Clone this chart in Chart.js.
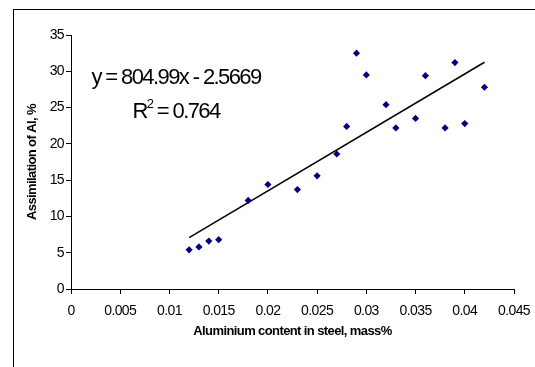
<!DOCTYPE html>
<html>
<head>
<meta charset="utf-8">
<script src="https://cdn.jsdelivr.net/npm/chart.js@4/dist/chart.umd.min.js"></script>
<style>
  body { margin: 0; background: #fff; }
  #frame { position: absolute; left: 13px; top: 9px; width: 600px; height: 400px;
           border-left: 1px solid #000; border-top: 1px solid #000; }
  #myChart { position: absolute; left: 0; top: 0; }
</style>
</head>
<body>
<div id="frame"></div>
<canvas id="myChart" width="535" height="367"></canvas>
<script>
// data
const alContent = [0.012, 0.013, 0.014, 0.015, 0.018, 0.020, 0.023, 0.025, 0.027, 0.028,
                   0.029, 0.030, 0.032, 0.033, 0.035, 0.036, 0.038, 0.039, 0.040, 0.042];
const assimilation = [5.4, 5.8, 6.6, 6.8, 12.2, 14.4, 13.7, 15.6, 18.6, 22.4,
                      32.5, 29.5, 25.4, 22.2, 23.5, 29.4, 22.2, 31.2, 22.8, 27.8];
// trendline from the equation shown on the chart
const trendCoef = [804.99, -2.5669];
const trendRange = [0.012, 0.042];
const rSquared = '0.764';
const xTickMax = 0.045;
const yTickMax = 35;

const fontName = '"Liberation Sans", Arial, sans-serif';

const points = alContent.map((x, i) => ({ x: x, y: assimilation[i] }));
const trend = trendRange.map(x => ({ x: x, y: trendCoef[0] * x + trendCoef[1] }));

// tight text like the original
const squeezeText = {
    id: 'squeezeText',
    beforeDraw(chart) {
        chart.ctx.letterSpacing = '-0.6px';
    }
};

// equation + R2 label
const equationLabel = {
    id: 'equationLabel',
    afterDraw(chart) {
        const ctx = chart.ctx;
        ctx.save();
        ctx.fillStyle = '#000';
        ctx.textBaseline = 'alphabetic';
        ctx.letterSpacing = '-1.6px';
        ctx.font = '22px ' + fontName;
        ctx.textAlign = 'center';
        const eq = 'y = ' + trendCoef[0] + 'x - ' + Math.abs(trendCoef[1]);
        ctx.fillText(eq, 176, 84);

        // R^2 = ...
        const rest = ' = ' + rSquared;
        const wR = ctx.measureText('R').width;
        ctx.font = '13px ' + fontName;
        const w2 = ctx.measureText('2').width;
        ctx.font = '22px ' + fontName;
        const wRest = ctx.measureText(rest).width;
        let x = 176 - (wR + w2 + wRest) / 2;
        ctx.textAlign = 'left';
        ctx.fillText('R', x, 118);
        x += wR;
        ctx.font = '13px ' + fontName;
        ctx.fillText('2', x, 108);
        x += w2;
        ctx.font = '22px ' + fontName;
        ctx.fillText(rest, x, 118);
        ctx.restore();
    }
};

const data = {
    datasets: [{
        type: 'scatter',
        label: 'Assimilation',
        data: points,
        pointStyle: 'rectRot',
        pointRadius: 3.6,
        pointBackgroundColor: '#000080',
        pointBorderColor: '#000080',
        pointBorderWidth: 0
    }, {
        type: 'line',
        label: 'Trend',
        data: trend,
        borderColor: '#000',
        borderWidth: 1.5,
        pointRadius: 0,
        fill: false
    }]
};

const config = {
    type: 'scatter',
    data,
    options: {
        responsive: false,
        animation: false,
        layout: { padding: { left: 0, right: 21, top: 35, bottom: 0 } },
        plugins: {
            legend: { display: false },
            tooltip: { enabled: false }
        },
        scales: {
            x: {
                type: 'linear',
                min: 0,
                max: xTickMax,
                afterFit(scale) {
                    scale.height = 367 - 289;
                    scale.paddingLeft = 0;
                    scale.paddingRight = 0;
                },
                border: { color: '#000', width: 1 },
                grid: { drawOnChartArea: false, drawTicks: true, tickLength: 5, color: '#000' },
                ticks: {
                    stepSize: 0.005,
                    autoSkip: false,
                    maxRotation: 0,
                    padding: 9,
                    color: '#000',
                    font: { family: fontName, size: 14 },
                    callback: v => String(+v.toFixed(3))
                },
                title: {
                    display: true,
                    text: 'Aluminium content in steel, mass%',
                    color: '#000',
                    font: { family: fontName, size: 13, weight: 'bold' },
                    padding: { top: 0, bottom: 28 }
                }
            },
            y: {
                min: 0,
                max: yTickMax,
                afterFit(scale) { scale.width = 71; },
                border: { color: '#000', width: 1 },
                grid: { drawOnChartArea: false, drawTicks: true, tickLength: 5, color: '#000' },
                ticks: {
                    stepSize: 5,
                    padding: 2,
                    color: '#000',
                    font: { family: fontName, size: 14 }
                },
                title: {
                    display: true,
                    text: 'Assimilation of Al, %',
                    color: '#000',
                    font: { family: fontName, size: 13, weight: 'bold' },
                    padding: { top: 25, bottom: 0 }
                }
            }
        }
    },
    plugins: [squeezeText, equationLabel]
};

const myChart = new Chart(document.getElementById('myChart'), config);
</script>
</body>
</html>
